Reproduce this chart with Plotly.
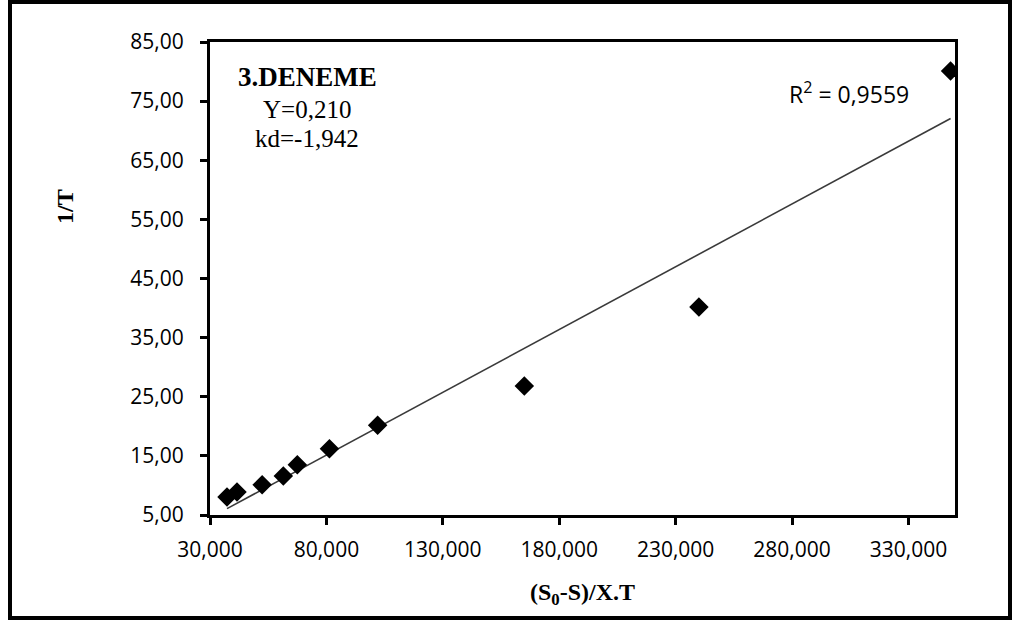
import numpy as np
import plotly.graph_objects as go

# data
x_vals = [37300, 41600, 52400, 61500, 67500, 81300, 102000, 165000, 240000, 348100]
y_vals = [8.05, 8.9, 10.1, 11.6, 13.5, 16.2, 20.2, 26.8, 40.2, 80.1]

x_tickvals = [30000, 80000, 130000, 180000, 230000, 280000, 330000]
x_ticktext = ["30,000", "80,000", "130,000", "180,000", "230,000", "280,000", "330,000"]
y_tickvals = [5, 15, 25, 35, 45, 55, 65, 75, 85]
y_ticktext = ["5,00", "15,00", "25,00", "35,00", "45,00", "55,00", "65,00", "75,00", "85,00"]

box_lines = ["3.DENEME", "Y=0,210", "kd=-1,942"]
r2_text = "R<sup>2</sup> = 0,9559"
x_title = "(S<sub>0</sub>-S)/X.T"
y_title = "1/T"

# linear trendline
slope, intercept = np.polyfit(x_vals, y_vals, 1)
tx = np.array([min(x_vals), max(x_vals)])
ty = slope * tx + intercept

fig = go.Figure()
fig.add_trace(go.Scatter(x=tx, y=ty, mode="lines",
                         line=dict(color="#3a3a3a", width=1.6),
                         showlegend=False, hoverinfo="skip"))
fig.add_trace(go.Scatter(x=x_vals, y=y_vals, mode="markers",
                         marker=dict(symbol="diamond", size=15, color="black"),
                         showlegend=False))

W, H = 1013, 621
L, R, T, B = 210, 58, 42, 106
pw, ph = W - L - R, H - T - B

def px(xp):
    return (xp - L) / pw

def py(yp):
    return (H - B - yp) / ph

tick_font = dict(family="Open Sans", size=21, color="black")
fig.update_layout(
    width=W, height=H,
    margin=dict(l=L, r=R, t=T, b=B),
    plot_bgcolor="white", paper_bgcolor="white",
    xaxis=dict(range=[30000, 350000], tickvals=x_tickvals, ticktext=x_ticktext,
               showgrid=False, zeroline=False, showline=True, linecolor="black",
               linewidth=3, mirror=True, ticks="outside", ticklen=7, tickwidth=3,
               tickcolor="black", tickfont=tick_font, ticklabelstandoff=7),
    yaxis=dict(range=[5, 85], tickvals=y_tickvals, ticktext=y_ticktext,
               showgrid=False, zeroline=False, showline=True, linecolor="black",
               linewidth=3, mirror=True, ticks="outside", ticklen=7, tickwidth=3,
               tickcolor="black", tickfont=tick_font, ticklabelstandoff=12),
)

serif = "Liberation Serif"
annotations = [
    dict(x=px(307), y=py(77), text="<b>" + box_lines[0] + "</b>",
         font=dict(family=serif, size=27, color="black")),
    dict(x=px(307), y=py(109), text=box_lines[1],
         font=dict(family=serif, size=25, color="black")),
    dict(x=px(307), y=py(138), text=box_lines[2],
         font=dict(family=serif, size=25, color="black")),
    dict(x=px(849), y=py(93), text=r2_text,
         font=dict(family="Open Sans", size=23, color="black")),
    dict(x=px(582), y=py(594), text="<b>" + x_title + "</b>",
         font=dict(family=serif, size=24, color="black")),
    dict(x=px(65), y=py(207), text="<b>" + y_title + "</b>", textangle=-90,
         font=dict(family=serif, size=24, color="black")),
]
for a in annotations:
    a.update(xref="paper", yref="paper", showarrow=False, xanchor="center", yanchor="middle")
fig.update_layout(annotations=annotations)

# outer frame
fig.add_shape(type="rect", xref="paper", yref="paper",
              x0=px(10), x1=px(1010), y0=py(618), y1=py(2),
              line=dict(color="black", width=4), layer="below")

fig.write_html("out.html", config={"displayModeBar": False},
               post_script="document.body.style.margin='0px';document.body.style.overflow='hidden';")
